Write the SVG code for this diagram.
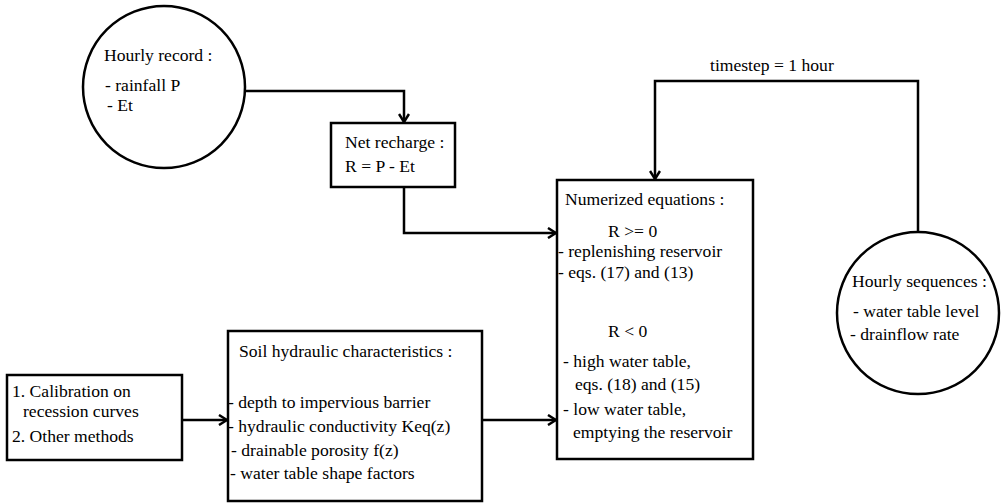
<svg xmlns="http://www.w3.org/2000/svg" width="1004" height="503" viewBox="0 0 1004 503" font-family="'Liberation Serif', 'DejaVu Serif', serif">
<defs>
<style>
.shape{fill:#fff;stroke:#000;stroke-width:2.5}
.conn{fill:none;stroke:#000;stroke-width:2.5}
.t{font-family:'Liberation Serif','DejaVu Serif',serif;font-size:17.6px;fill:#000}
</style>
<marker id="arr" viewBox="0 0 12 12" refX="11" refY="6" markerWidth="12" markerHeight="12" markerUnits="userSpaceOnUse" orient="auto">
<path d="M3,1 L11,6 L3,11" fill="none" stroke="#000" stroke-width="2.5"/>
</marker>
</defs>
<rect width="1004" height="503" fill="#fff"/>
<g id="connectors">
<path class="conn" d="M246,91 H404 V122" marker-end="url(#arr)"/>
<path class="conn" d="M404,187 V233 H556" marker-end="url(#arr)"/>
<path class="conn" d="M918,232 V81 H655 V179" marker-end="url(#arr)"/>
<path class="conn" d="M182,420 H227" marker-end="url(#arr)"/>
<path class="conn" d="M482,420 H556" marker-end="url(#arr)"/>
<text class="t" x="710" y="71">timestep = 1 hour</text>
</g>
<g id="hourly-record">
<circle class="shape" cx="164" cy="87" r="81"/>
<text class="t" x="104" y="61">Hourly record :</text>
<text class="t" x="105" y="91">- rainfall P</text>
<text class="t" x="107" y="111">- Et</text>
</g>
<g id="net-recharge">
<rect class="shape" x="331" y="123" width="124" height="64"/>
<text class="t" x="345" y="148">Net recharge :</text>
<text class="t" x="345" y="172">R = P - Et</text>
</g>
<g id="numerized">
<rect class="shape" x="557" y="180" width="196" height="279"/>
<text class="t" x="565" y="205">Numerized equations :</text>
<text class="t" x="608" y="237">R &gt;=  0</text>
<text class="t" x="558" y="257">- replenishing  reservoir</text>
<text class="t" x="558" y="278">- eqs. (17) and (13)</text>
<text class="t" x="608" y="337">R &lt; 0</text>
<text class="t" x="563" y="367">- high water table,</text>
<text class="t" x="575" y="390">eqs. (18) and (15)</text>
<text class="t" x="563" y="415">- low water table,</text>
<text class="t" x="573" y="438">emptying the reservoir</text>
</g>
<g id="hourly-sequences">
<circle class="shape" cx="918" cy="313" r="81"/>
<text class="t" x="852" y="287">Hourly sequences :</text>
<text class="t" x="853" y="317">- water table level</text>
<text class="t" x="850" y="340">- drainflow rate</text>
</g>
<g id="calibration">
<rect class="shape" x="7" y="375" width="175" height="85"/>
<text class="t" x="12" y="397">1. Calibration on</text>
<text class="t" x="23" y="417">recession curves</text>
<text class="t" x="12" y="442">2. Other methods</text>
</g>
<g id="soil">
<rect class="shape" x="228" y="331" width="254" height="170"/>
<text class="t" x="239" y="357">Soil hydraulic characteristics :</text>
<text class="t" x="228" y="408">- depth to impervious barrier</text>
<text class="t" x="228" y="432">- hydraulic conductivity Keq(z)</text>
<text class="t" x="231" y="456">- drainable porosity f(z)</text>
<text class="t" x="230" y="479">- water table shape factors</text>
</g>
</svg>
